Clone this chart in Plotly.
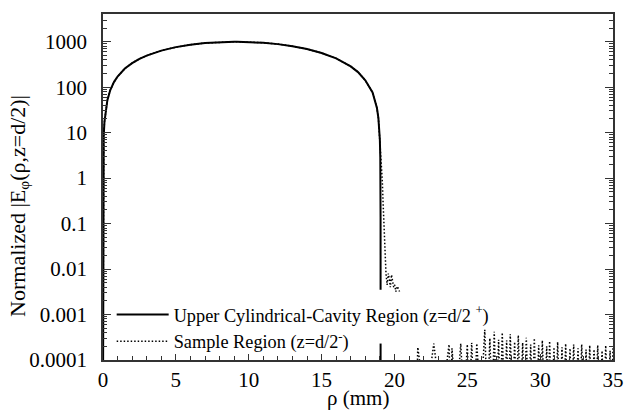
import plotly.graph_objects as go

# Upper cylindrical-cavity region, z = d/2+ (radius in mm, normalized |E_phi|)
rho_cavity = [0.0, 0.002, 0.05, 0.1, 0.2, 0.3, 0.5, 0.75, 1.0, 1.5, 2.0, 2.5, 3.0, 4.0,
              5.0, 6.0, 7.0, 8.0, 9.0, 9.2, 10.0, 11.0, 12.0, 13.0, 14.0, 15.0,
              16.0, 17.0, 17.5, 18.0, 18.5, 18.8, 18.9, 19.0, 19.03, 19.04, 19.045,
              19.049, 19.05, None, 19.05, 19.05]
e_cavity = [1e-5, 0.35, 8.7, 17.3, 34.6, 52.0, 86.5, 129.5, 172.0, 257.0, 339.0, 420.0,
            496.0, 638.0, 761.0, 860.0, 935.0, 981.0, 999.0, 1000.0, 989.0, 951.0,
            886.0, 799.0, 690.0, 567.0, 431.0, 287.0, 215.0, 142.0, 76.5, 34.8, 20.9,
            7.0, 2.8, 1.4, 0.7, 0.14, 0.0035, None, 0.00023, 1e-5]

# Sample region, z = d/2-: overlaps the cavity field inside the wall radius
rho_edge = [19.1, 19.17, 19.22, 19.27, 19.32, 19.37, 19.42, 19.5, 19.58, 19.65,
            19.72, 19.8, 19.88, 19.95, 20.02, 20.1, 20.2, 20.28, 20.35]
e_edge = [2.5, 0.85, 0.3, 0.1, 0.035, 0.012, 0.008, 0.0045, 0.008, 0.006,
          0.004, 0.0075, 0.0055, 0.004, 0.0045, 0.0032, 0.0042, 0.0035, 0.0032]

# Oscillating tail in the sample region: local maxima and the minima between them
rho_peaks = [21.6, 22.7, 23.75, 23.95, 24.55, 25.0, 25.3, 25.65, 26.2, 26.55, 26.85,
             27.15, 27.4, 27.7, 27.95, 28.25, 28.5, 28.8, 29.05, 29.35, 29.6, 29.9,
             30.15, 30.45, 30.65, 30.95, 31.2, 31.5, 31.75, 32.05, 32.3, 32.6, 32.85,
             33.15, 33.4, 33.7, 33.95, 34.25, 34.5, 34.8, 35.0]
e_peaks = [0.00019, 0.00023, 0.00022, 0.00018, 0.00023, 0.00022, 0.00024, 0.00023,
           0.00046, 0.00030, 0.00042, 0.00028, 0.00040, 0.00027, 0.00037, 0.00025,
           0.00035, 0.00024, 0.00031, 0.00022, 0.00030, 0.00021, 0.00027, 0.00020,
           0.00026, 0.00019, 0.00025, 0.00019, 0.00023, 0.00018, 0.00022, 0.00018,
           0.00022, 0.00017, 0.00021, 0.00017, 0.00021, 0.00016, 0.00021, 0.00016,
           0.00020]
e_trough = 1e-5

rho_sample = [r for r in rho_cavity[:34]] + rho_edge + [None]
e_sample = [v for v in e_cavity[:34]] + e_edge + [None]
prev = 21.4
for r, v in zip(rho_peaks, e_peaks):
    rho_sample += [(prev + r) / 2 if prev > 21.4 else r - 0.08, r]
    e_sample += [e_trough, v]
    prev = r

y_ticks = [0.0001, 0.001, 0.01, 0.1, 1, 10, 100, 1000]
y_ticktext = ["0.0001", "0.001", "0.01", "0.1", "1", "10", "100", "1000"]
x_ticks = [0, 5, 10, 15, 20, 25, 30, 35]

minor_y = [m * 10 ** e for e in range(-4, 4) for m in range(2, 10) if m * 10 ** e < 4000]

FONT = "Liberation Serif"
SIZE = 21

fig = go.Figure()
fig.add_trace(go.Scatter(
    x=rho_sample, y=e_sample, mode="lines", connectgaps=False,
    name="Sample Region (z=d/2<sup>-</sup>)",
    line=dict(color="black", width=1.5, dash="1.5px,2px"),
))
fig.add_trace(go.Scatter(
    x=rho_cavity, y=e_cavity, mode="lines", connectgaps=False,
    name="Upper Cylindrical-Cavity Region (z=d/2 <sup>+</sup>)",
    line=dict(color="black", width=2),
))

axis_common = dict(
    showgrid=False, zeroline=False, linecolor="#333", linewidth=1.5,
    ticks="inside", tickcolor="#333", tickwidth=1.2,
    tickfont=dict(family=FONT, size=SIZE, color="black"),
)

fig.update_layout(
    width=636, height=419,
    margin=dict(l=103, r=12, t=12, b=59),
    paper_bgcolor="white", plot_bgcolor="white",
    font=dict(family=FONT, size=SIZE, color="black"),
    showlegend=True,
    legend=dict(
        x=0.017, y=0.185, xanchor="left", yanchor="top",
        traceorder="reversed", bgcolor="rgba(0,0,0,0)",
        font=dict(family=FONT, size=18.3, color="black"),
        tracegroupgap=0, itemwidth=52,
    ),
    xaxis=dict(
        **axis_common, range=[0, 35], tickvals=x_ticks, ticklen=6, mirror=True,
        ticklabelstandoff=0,
        minor=dict(ticks="inside", dtick=1, ticklen=4, tickcolor="#333", showgrid=False),
    ),
    yaxis=dict(
        **axis_common, type="log", range=[-4, 3.61], tickvals=y_ticks,
        ticktext=y_ticktext, ticklen=8, mirror="ticks", ticklabelstandoff=10,
        minor=dict(ticks="inside", tickmode="array", tickvals=minor_y, ticklen=4,
                   tickcolor="#333", showgrid=False),
    ),
    annotations=[
        dict(text="ρ (mm)", xref="paper", yref="paper", x=0.5, y=-0.07,
             xanchor="center", yanchor="top", showarrow=False,
             font=dict(family=FONT, size=SIZE)),
        dict(text="Normalized |E<sub>φ</sub>(ρ,z=d/2)|", xref="paper", yref="paper",
             x=-0.165, y=0.445, xanchor="center", yanchor="middle", textangle=-90,
             showarrow=False, font=dict(family=FONT, size=22)),
    ],
)

fig.write_html("out.html")
